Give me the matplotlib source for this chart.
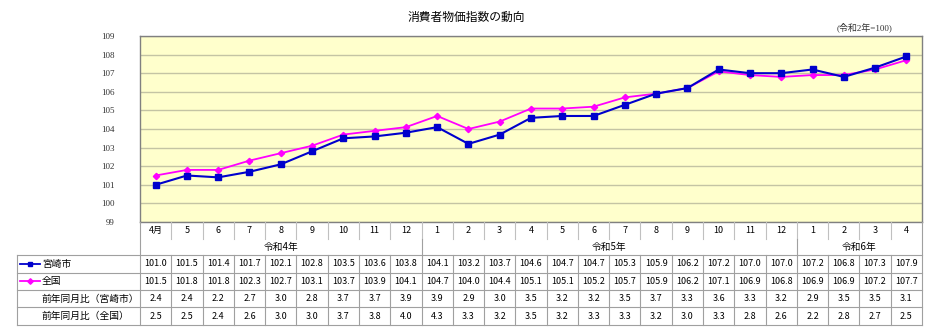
import numpy as np
import matplotlib.pyplot as plt

plt.rcParams['font.family'] = ['Noto Sans CJK JP', 'DejaVu Sans']

months = ['4月', '5', '6', '7', '8', '9', '10', '11', '12',
          '1', '2', '3', '4', '5', '6', '7', '8', '9', '10', '11', '12',
          '1', '2', '3', '4']
years = [('令和4年', 9), ('令和5年', 12), ('令和6年', 4)]

miyazaki = [101.0, 101.5, 101.4, 101.7, 102.1, 102.8, 103.5, 103.6, 103.8,
            104.1, 103.2, 103.7, 104.6, 104.7, 104.7, 105.3, 105.9, 106.2,
            107.2, 107.0, 107.0, 107.2, 106.8, 107.3, 107.9]
zenkoku = [101.5, 101.8, 101.8, 102.3, 102.7, 103.1, 103.7, 103.9, 104.1,
           104.7, 104.0, 104.4, 105.1, 105.1, 105.2, 105.7, 105.9, 106.2,
           107.1, 106.9, 106.8, 106.9, 106.9, 107.2, 107.7]
yoy_miyazaki = [2.4, 2.4, 2.2, 2.7, 3.0, 2.8, 3.7, 3.7, 3.9,
                3.9, 2.9, 3.0, 3.5, 3.2, 3.2, 3.5, 3.7, 3.3, 3.6, 3.3, 3.2,
                2.9, 3.5, 3.5, 3.1]
yoy_zenkoku = [2.5, 2.5, 2.4, 2.6, 3.0, 3.0, 3.7, 3.8, 4.0,
               4.3, 3.3, 3.2, 3.5, 3.2, 3.3, 3.3, 3.2, 3.0, 3.3, 2.8, 2.6,
               2.2, 2.8, 2.7, 2.5]

W, H = 932, 330
BLUE = '#0000cc'
PINK = '#ff00ff'

fig = plt.figure(figsize=(W / 100, H / 100), dpi=100)

# plot area in pixel terms
x0, x1 = 140, 922
y_top, y_bot = 36, 222
n = len(months)
ax = fig.add_axes([x0 / W, 1 - y_bot / H, (x1 - x0) / W, (y_bot - y_top) / H])
ax.set_facecolor('#ffffcc')
ax.set_xlim(-0.5, n - 0.5)
ax.set_ylim(99, 109)
ax.set_yticks(range(99, 110))
ax.yaxis.grid(True, color='#c4c4a4', lw=1)
ax.set_axisbelow(True)
ax.set_xticks([])
ax.tick_params(axis='y', length=0, pad=18, labelsize=6.5, labelcolor='#333333')
for lab in ax.get_yticklabels():
    lab.set_family('Liberation Serif')
for s in ax.spines.values():
    s.set_color('#808080')
    s.set_linewidth(1)

x = np.arange(n)
ax.plot(x, zenkoku, color=PINK, lw=1.3, marker='D', ms=3.2, mec=PINK, mfc=PINK)
ax.plot(x, miyazaki, color=BLUE, lw=1.5, marker='s', ms=4.5, mec=BLUE, mfc=BLUE)

fig.text(466 / W, 1 - 17 / H, '消費者物価指数の動向', ha='center', va='center', fontsize=8.5)
fig.text(865 / W, 1 - 27 / H, '(令和2年=100)', ha='center', va='center', fontsize=6.5,
         family=['Liberation Serif', 'Noto Sans CJK JP'], color='#333333')

# table underneath the plot, drawn in pixel coordinates
tb = fig.add_axes([0, 0, 1, 1], facecolor='none')
tb.set_xlim(0, W)
tb.set_ylim(H, 0)
tb.axis('off')

cw = (x1 - x0) / n
lx = 17
rows = [222, 239, 255, 272.5, 290, 307.3, 325]
lc = '#a0a0a0'

def col_x(i):
    return x0 + i * cw

# month row
for i, m in enumerate(months):
    tb.text(col_x(i) + cw / 2, (rows[0] + rows[1]) / 2, m, ha='center', va='center', fontsize=6.5)
    if i > 0:
        tb.plot([col_x(i)] * 2, [rows[0], rows[1]], color='#c0c0c0', lw=0.8)

# year row
start = 0
for name, cnt in years:
    tb.text(col_x(start + cnt / 2), (rows[1] + rows[2]) / 2, name, ha='center', va='center', fontsize=7)
    start += cnt
    if start < n:
        tb.plot([col_x(start)] * 2, [rows[1], rows[2]], color=lc, lw=0.8)

# data rows
values = [miyazaki, zenkoku, yoy_miyazaki, yoy_zenkoku]
for r, vals in enumerate(values):
    yc = (rows[r + 2] + rows[r + 3]) / 2
    for i, v in enumerate(vals):
        tb.text(col_x(i) + cw / 2, yc, f'{v:.1f}', ha='center', va='center', fontsize=6.5)

for i in range(1, n):
    tb.plot([col_x(i)] * 2, [rows[2], rows[6]], color=lc, lw=0.8)
for yy in rows[2:]:
    tb.plot([lx, x1], [yy, yy], color=lc, lw=0.8)
tb.plot([lx, lx], [rows[2], rows[6]], color=lc, lw=0.8)
tb.plot([x0, x0], [rows[0], rows[6]], color=lc, lw=0.8)
tb.plot([x1, x1], [rows[0], rows[6]], color=lc, lw=0.8)

# row labels with legend swatches
y_m = (rows[2] + rows[3]) / 2
y_z = (rows[3] + rows[4]) / 2
tb.plot([20, 40], [y_m, y_m], color=BLUE, lw=1.3)
tb.plot([30], [y_m], marker='s', ms=3.5, color=BLUE)
tb.plot([20, 40], [y_z, y_z], color=PINK, lw=1.3)
tb.plot([30], [y_z], marker='D', ms=2.8, color=PINK)
tb.text(42, y_m, '宮崎市', ha='left', va='center', fontsize=7)
tb.text(42, y_z, '全国', ha='left', va='center', fontsize=7)
tb.text(42, (rows[4] + rows[5]) / 2, '前年同月比（宮崎市）', ha='left', va='center', fontsize=7)
tb.text(42, (rows[5] + rows[6]) / 2, '前年同月比（全国）', ha='left', va='center', fontsize=7)

fig.savefig('out.png', dpi=100)
